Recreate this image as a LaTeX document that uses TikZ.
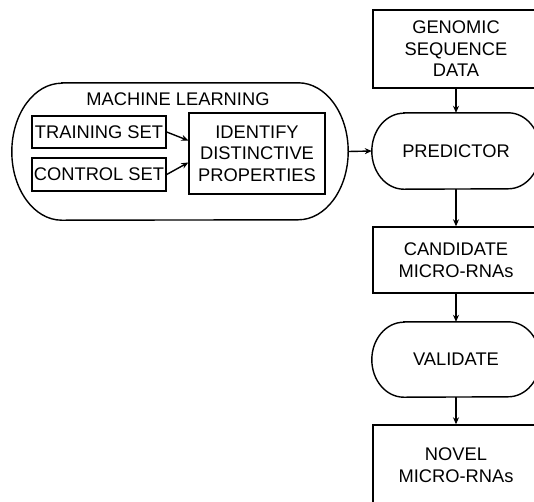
\documentclass[tikz,border=0pt]{standalone}
\usepackage{fontspec}
\setmainfont{Liberation Sans}
\usetikzlibrary{arrows.meta}
\begin{document}
\begin{tikzpicture}[x=1pt,y=1pt,
  lw/.style={line width=1.4pt},
  box/.style={draw,lw,rectangle,inner sep=0pt,align=center,font=\fontsize{18.3}{21.5}\selectfont},
  plain/.style={rectangle,inner sep=0pt,align=center,font=\fontsize{18.3}{21.5}\selectfont},
  arr/.style={lw,-{Stealth[length=7pt,width=6pt]}}]
\useasboundingbox (0,0) rectangle (534,-501);
\clip (0,0) rectangle (534,-501);
% right column
\node[box,minimum width=166pt,minimum height=78pt] (gen) at (456,-49) {GENOMIC\\SEQUENCE\\DATA};
\node[plain,minimum width=168pt,minimum height=76pt] (pred) at (456,-151) {PREDICTOR};
\node[box,minimum width=166pt,minimum height=66pt] (cand) at (456,-260) {CANDIDATE\\MICRO-RNAs};
\node[plain,minimum width=168pt,minimum height=75pt] (val) at (456,-359.5) {VALIDATE};
\node[box,minimum width=166pt,minimum height=80pt] (nov) at (456,-465) {NOVEL\\MICRO-RNAs};
% stadium outlines
\draw[lw] ([xshift=32pt]pred.north west) -- ([xshift=-32pt]pred.north east)
  arc[start angle=90,end angle=-90,x radius=32pt,y radius=38pt]
  -- ([xshift=32pt]pred.south west)
  arc[start angle=270,end angle=90,x radius=32pt,y radius=38pt] -- cycle;
\draw[lw] ([xshift=32pt]val.north west) -- ([xshift=-32pt]val.north east)
  arc[start angle=90,end angle=-90,x radius=32pt,y radius=37.5pt]
  -- ([xshift=32pt]val.south west)
  arc[start angle=270,end angle=90,x radius=32pt,y radius=37.5pt] -- cycle;
% machine learning group
\node[plain,minimum width=336pt,minimum height=137pt] (ml) at (180,-151.5) {};
\draw[lw] ([xshift=50pt]ml.north west) -- ([xshift=-50pt]ml.north east)
  arc[start angle=90,end angle=-90,x radius=50pt,y radius=68.5pt]
  -- ([xshift=50pt]ml.south west)
  arc[start angle=270,end angle=90,x radius=50pt,y radius=68.5pt] -- cycle;
\node[plain] (mltitle) at (178,-99) {MACHINE LEARNING};
\node[box,minimum width=134pt,minimum height=32pt] (train) at (99,-132) {TRAINING SET};
\node[box,minimum width=134pt,minimum height=33pt] (ctrl) at (99,-174.5) {CONTROL SET};
\node[box,minimum width=136pt,minimum height=81pt] (ident) at (257,-153.5) {IDENTIFY\\DISTINCTIVE\\PROPERTIES};
% connectors
\draw[arr] (train.east) -- ([yshift=13pt]ident.west);
\draw[arr] (ctrl.east) -- ([yshift=-9pt]ident.west);
\draw[arr] (ml.east) -- (pred.west);
\draw[arr] (gen.south) -- (pred.north);
\draw[arr] (pred.south) -- (cand.north);
\draw[arr] (cand.south) -- (val.north);
\draw[arr] (val.south) -- (nov.north);
\end{tikzpicture}
\end{document}
